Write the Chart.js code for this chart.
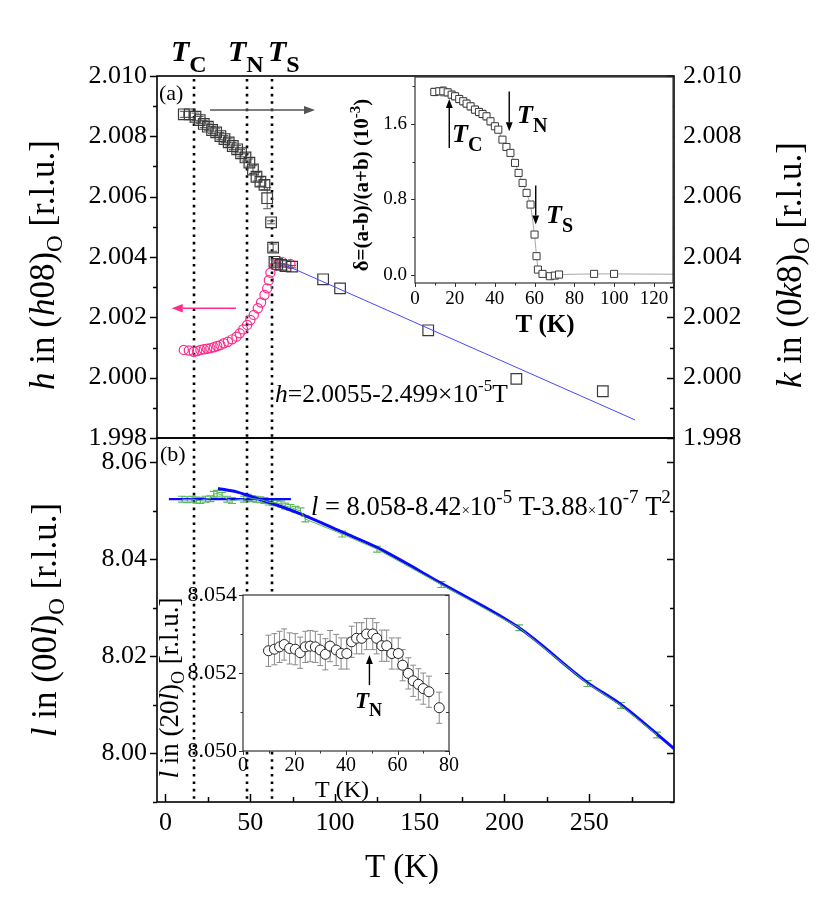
<!DOCTYPE html>
<html><head><meta charset="utf-8">
<script src="https://cdn.jsdelivr.net/npm/chart.js@4"></script>
<style>
html,body{margin:0;padding:0;background:#fff;}
#wrap{position:relative;width:830px;height:900px;overflow:hidden;background:#fff;}
canvas{position:absolute;left:0;top:0;}
</style></head><body>
<div id="wrap">
<canvas id="cBot" width="830" height="900"></canvas>
<canvas id="cTop" width="830" height="900"></canvas>
<canvas id="cIn1" width="830" height="900"></canvas>
<canvas id="cIn2" width="830" height="900"></canvas>
</div>
<script>
// ---------------- data ----------------
const xTicks = [0, 50, 100, 150, 200, 250];
const xMinor = [25, 75, 125, 175, 225, 275];
const hkTicks = [1.998, 2.000, 2.002, 2.004, 2.006, 2.008, 2.010];
const hkMinor = [1.999, 2.001, 2.003, 2.005, 2.007, 2.009];
const lTicks = [8.00, 8.02, 8.04, 8.06];
const lMinor = [7.99, 8.01, 8.03, 8.05];
const transT = [17, 48, 63];

// k in (0k8) (squares, right axis)
const kT   = [10.8,14.3,17.7,20.2,22.6,25.0,27.5,29.9,32.4,34.8,37.3,39.7,42.3,44.6,47.2,49.5,51.6,53.7,56.0,58.4,60.0,62.3,63.5,64.3,65.9,68.2,70.8,74.7,93,103,155,207,258];
const kVal = [2.00873,2.00873,2.00865,2.00854,2.00841,2.00832,2.00821,2.00813,2.00801,2.00791,2.00780,2.00768,2.00757,2.00744,2.00730,2.00713,2.00690,2.00666,2.00650,2.00639,2.00595,2.00515,2.00431,2.00384,2.00377,2.00374,2.00370,2.00368,2.00326,2.00296,2.00157,1.99996,1.99955];
const kErr = [0.00010,0.00010,0.00012,0.00012,0.00012,0.00012,0.00012,0.00012,0.00012,0.00012,0.00012,0.00012,0.00012,0.00012,0.00012,0.00012,0.00013,0.00014,0.00015,0.00016,0.00035,0.00005,0.00012,0.00006,0.00004,0.00004,0.00004,0.00004,0,0,0,0,0];

// h in (h08) (circles, left axis)
const hT   = [10.8,13.8,16.7,18.7,20.6,22.6,24.6,26.5,28.5,30.5,32.4,34.4,36.8,39.3,41.9,43.8,45.8,48.2,50.1,52.1,54.5,56.4,58.4,60.0,61.0,61.9,64.9,68.8,73.7];
const hVal = [2.00092,2.00090,2.00086,2.00088,2.00092,2.00094,2.00096,2.00098,2.00101,2.00105,2.00108,2.00114,2.00119,2.00127,2.00136,2.00147,2.00160,2.00175,2.00191,2.00208,2.00230,2.00249,2.00274,2.00296,2.00323,2.00348,2.00373,2.00384,2.00377];
const hFitT   = [68, 277];
const hFitVal = [2.0038, 1.9986];

// inset (a): orthorhombicity delta
const dT   = [9.7,12.2,14.2,16.4,18.4,20.1,22.2,24.2,25.9,27.9,30.1,32.1,33.9,35.9,37.9,40.1,41.8,43.9,45.9,47.9,50.2,52.0,54.0,56.0,58.0,60.0,61.0,61.7,64.0,67.7,70.2,72.3,89.9,99.9,155];
const dVal = [1.941,1.948,1.948,1.937,1.912,1.895,1.866,1.842,1.817,1.788,1.753,1.728,1.707,1.682,1.629,1.576,1.540,1.434,1.356,1.293,1.187,1.080,0.974,0.868,0.744,0.425,0.195,0.053,0.007,-0.018,-0.011,0.0,0.007,0.007,0.0];
const dErr = [0.04,0.04,0.05,0.04,0.04,0.04,0.04,0.04,0.04,0.04,0.04,0.04,0.04,0.04,0.04,0.03,0.03,0.03,0.03,0.03,0.03,0.03,0.03,0.03,0.03,0.02,0.03,0.03,0,0,0,0,0,0,0];
const dTicksX = [0, 20, 40, 60, 80, 100, 120];
const dMinorX = [10, 30, 50, 70, 90, 110];
const dTicksY = [0.0, 0.8, 1.6];
const dMinorY = [0.4, 1.2, 2.0];

// panel (b): l in (00l)
const lT   = [9.8,12.8,15.7,18.3,20.6,23.6,26.5,28.5,30.5,33.4,36.4,39.3,46.2,48.5,51.1,53.6,56.0,58.4,60.9,63.5,65.8,68.2,70.7,73.7,76.7,79.6,82.5,104.2,124.8,162.7,208.7,249,268.7,290];
const lVal = [8.0524,8.0523,8.0524,8.0522,8.0521,8.0524,8.0525,8.0534,8.0536,8.0532,8.0524,8.0521,8.0524,8.0528,8.0525,8.0524,8.0523,8.0521,8.0518,8.0517,8.0516,8.0514,8.0510,8.0507,8.0503,8.0500,8.0483,8.0452,8.0421,8.0348,8.0259,8.0144,8.0099,8.0038];
const lErr = lT.map(() => 0.0006);
const lFitT   = [31, 42, 50, 64, 80, 105, 125, 163, 209, 249, 269, 300];
const lFitVal = [8.0546, 8.0539, 8.0530, 8.0514, 8.0493, 8.0455, 8.0424, 8.0350, 8.0258, 8.0146, 8.0100, 8.0010];
const lFlatT   = [2, 74];
const lFlatVal = [8.0524, 8.0524];

// inset (b): l in (20l)
const iT   = [9.9,12.2,14.2,16.0,18.1,20.3,22.2,24.2,26.1,28.1,30.0,32.0,33.8,36.2,38.1,40.3,42.2,44.1,46.1,48.0,50.4,51.9,53.9,55.8,57.8,60.3,62.0,64.2,66.1,68.1,70.0,72.2,76.2];
const iVal = [8.05257,8.05261,8.05267,8.05273,8.05263,8.05261,8.05252,8.05267,8.05269,8.05267,8.05259,8.05248,8.05269,8.05259,8.05250,8.05250,8.05280,8.05289,8.05289,8.05300,8.05300,8.05289,8.05270,8.05270,8.05250,8.05250,8.05220,8.05199,8.05180,8.05171,8.05160,8.05152,8.05111];
const iErr = iT.map(() => 0.0004);
const iTicksX = [0, 20, 40, 60, 80];
const iMinorX = [10, 30, 50, 70];
const iTicksY = [8.050, 8.052, 8.054];
const iMinorY = [8.051, 8.053];

// ---------------- helpers ----------------
const SERIF = "'Liberation Serif', 'Times New Roman', serif";
Chart.defaults.font.family = SERIF;
Chart.defaults.color = '#000';
const pts = (xs, ys) => xs.map((x, i) => ({x, y: ys[i]}));
const P = Math.PI;

function fontStr(r, item) {
  return `${r.style || item.style || 'normal'} ${r.weight || item.weight || 'normal'} ${r.size || item.size}px ${SERIF}`;
}
function drawRuns(ctx, item) {
  ctx.save();
  ctx.translate(item.x, item.y);
  if (item.rot) ctx.rotate(item.rot);
  ctx.textBaseline = 'alphabetic';
  ctx.textAlign = 'left';
  ctx.fillStyle = item.color || '#000';
  let total = 0;
  const ws = item.runs.map(r => { ctx.font = fontStr(r, item); const w = ctx.measureText(r.t).width; total += w; return w; });
  let x = item.align === 'center' ? -total / 2 : (item.align === 'right' ? -total : 0);
  item.runs.forEach((r, i) => { ctx.font = fontStr(r, item); ctx.fillText(r.t, x, r.dy || 0); x += ws[i]; });
  ctx.restore();
}
function drawArrow(ctx, x1, y1, x2, y2, color, w, head) {
  ctx.save();
  ctx.strokeStyle = color; ctx.fillStyle = color; ctx.lineWidth = w;
  const ang = Math.atan2(y2 - y1, x2 - x1);
  const bx = x2 - Math.cos(ang) * head, by = y2 - Math.sin(ang) * head;
  ctx.beginPath(); ctx.moveTo(x1, y1); ctx.lineTo(bx, by); ctx.stroke();
  const hw = head * 0.38;
  ctx.beginPath();
  ctx.moveTo(x2, y2);
  ctx.lineTo(bx + Math.sin(ang) * hw, by - Math.cos(ang) * hw);
  ctx.lineTo(bx - Math.sin(ang) * hw, by + Math.cos(ang) * hw);
  ctx.closePath(); ctx.fill();
  ctx.restore();
}

const DECOR = {};
const decor = {
  id: 'decor',
  beforeDraw(chart) {
    const d = DECOR[chart.canvas.id]; if (!d) return;
    const a = chart.chartArea, ctx = chart.ctx;
    if (d.bg) { ctx.save(); ctx.fillStyle = d.bg; ctx.fillRect(a.left, a.top, a.right - a.left, a.bottom - a.top); ctx.restore(); }
  },
  beforeDatasetsDraw(chart) {
    const d = DECOR[chart.canvas.id]; if (!d) return;
    const a = chart.chartArea, ctx = chart.ctx;
    ctx.save();
    ctx.beginPath(); ctx.rect(a.left, a.top, a.right - a.left, a.bottom - a.top); ctx.clip();
    if (d.dotted) {
      ctx.save();
      ctx.strokeStyle = '#000'; ctx.lineWidth = 2.6; ctx.setLineDash([2.6, 4.8]);
      d.dotted.forEach(t => {
        const x = Math.round(chart.scales.x.getPixelForValue(t));
        ctx.beginPath(); ctx.moveTo(x, a.top + 3); ctx.lineTo(x, a.bottom); ctx.stroke();
      });
      ctx.restore();
    }
    chart.data.datasets.forEach((ds, i) => {
      if (!ds.errors) return;
      const meta = chart.getDatasetMeta(i);
      const ys = chart.scales[ds.yAxisID || 'y'];
      ctx.save();
      ctx.strokeStyle = ds.errorColor || '#888'; ctx.lineWidth = ds.errorWidth || 1;
      meta.data.forEach((el, j) => {
        const e = ds.errors[j]; if (!e) return;
        const v = ds.data[j].y;
        const y1 = ys.getPixelForValue(v + e), y2 = ys.getPixelForValue(v - e);
        const c = ds.capWidth || 3;
        ctx.beginPath();
        ctx.moveTo(el.x, y1); ctx.lineTo(el.x, y2);
        ctx.moveTo(el.x - c, y1); ctx.lineTo(el.x + c, y1);
        ctx.moveTo(el.x - c, y2); ctx.lineTo(el.x + c, y2);
        ctx.stroke();
      });
      ctx.restore();
    });
    ctx.restore();
  },
  afterDatasetsDraw(chart) {
    const d = DECOR[chart.canvas.id]; if (!d) return;
    const a = chart.chartArea, ctx = chart.ctx;
    (d.ticks || []).forEach(t => {
      const s = chart.scales[t.scale];
      ctx.save(); ctx.strokeStyle = d.frameColor || '#000'; ctx.lineWidth = t.w || 1.5;
      const draw = (vals, len) => vals.forEach(v => {
        const p = Math.round(s.getPixelForValue(v)) + 0.5;
        ctx.beginPath();
        if (t.edge === 'left') { const dir = t.dir === 'out' ? -1 : 1; ctx.moveTo(a.left, p); ctx.lineTo(a.left + dir * len, p); }
        else if (t.edge === 'right') { const dir = t.dir === 'out' ? 1 : -1; ctx.moveTo(a.right, p); ctx.lineTo(a.right + dir * len, p); }
        else if (t.edge === 'bottom') { const dir = t.dir === 'out' ? 1 : -1; ctx.moveTo(p, a.bottom); ctx.lineTo(p, a.bottom + dir * len); }
        ctx.stroke();
      });
      draw(t.major || [], t.len); draw(t.minor || [], t.mlen);
      ctx.restore();
    });
    if (d.frame) {
      ctx.save(); ctx.strokeStyle = d.frameColor || '#000'; ctx.lineWidth = d.frame;
      ctx.strokeRect(a.left, a.top, a.right - a.left, a.bottom - a.top);
      ctx.restore();
    }
    (d.arrows || []).forEach(r => {
      const xs = chart.scales.x, ys = chart.scales.y;
      drawArrow(ctx, xs.getPixelForValue(r.x1), ys.getPixelForValue(r.y1), xs.getPixelForValue(r.x2), ys.getPixelForValue(r.y2), r.color, r.w, r.head);
    });
    (d.texts || []).forEach(t => drawRuns(ctx, t));
  }
};

function yAxis(pos, min, max, ticks, width, o) {
  return {
    type: 'linear', position: pos, min, max,
    grid: {display: false, drawTicks: false}, border: {display: false},
    afterBuildTicks: s => { s.ticks = ticks.map(v => ({value: v})); },
    afterFit: s => { s.width = width; s.paddingTop = 0; s.paddingBottom = 0; s.paddingLeft = 0; s.paddingRight = 0; },
    ticks: {display: o.labels !== false, autoSkip: false, padding: o.pad || 0, color: '#000',
            font: {family: SERIF, size: o.size || 12, style: 'normal', weight: 'normal'}, callback: v => Number(v).toFixed(o.dec)}
  };
}
function xAxis(min, max, ticks, height, o) {
  return {
    type: 'linear', position: 'bottom', min, max, display: o.display !== false,
    grid: {display: false, drawTicks: false}, border: {display: false},
    afterBuildTicks: s => { s.ticks = ticks.map(v => ({value: v})); },
    afterFit: s => { s.height = height; s.paddingLeft = 0; s.paddingRight = 0; s.paddingTop = 0; s.paddingBottom = 0; },
    ticks: {autoSkip: false, maxRotation: 0, minRotation: 0, padding: o.pad || 0, color: '#000',
            font: {family: SERIF, size: o.size || 12, style: 'normal', weight: 'normal'}, callback: v => String(v)}
  };
}
function makeChart(id, datasets, scales, padding) {
  return new Chart(document.getElementById(id), {
    type: 'scatter',
    data: {datasets},
    options: {
      responsive: false, animation: false, events: [], devicePixelRatio: 1,
      layout: {padding},
      scales,
      plugins: {legend: {display: false}, tooltip: {enabled: false}}
    },
    plugins: [decor]
  });
}

// ---------------- panel (b), bottom main ----------------
DECOR.cBot = {
  frame: 1.6,
  dotted: transT,
  ticks: [
    {scale: 'y', edge: 'left', dir: 'out', major: lTicks, minor: lMinor, len: 7, mlen: 4},
    {scale: 'y2', edge: 'right', dir: 'in', major: lTicks, minor: lMinor, len: 7, mlen: 4},
    {scale: 'x', edge: 'bottom', dir: 'in', major: xTicks, minor: xMinor, len: 8, mlen: 5}
  ],
  texts: [
    {x: 160, y: 461, size: 22, runs: [{t: '(b)'}]},
    {x: 311, y: 515, size: 26.5, runs: [
      {t: 'l', style: 'italic'}, {t: ' = 8.058-8.42'}, {t: '×', size: 15}, {t: '10'}, {t: '-5', size: 19, dy: -12},
      {t: ' T-3.88'}, {t: '×', size: 15}, {t: '10'}, {t: '-7', size: 19, dy: -12}, {t: ' T'}, {t: '2', size: 19, dy: -12}]},
    {x: 56, y: 620, rot: -P / 2, align: 'center', size: 35, runs: [
      {t: 'l', style: 'italic'}, {t: ' in (00'}, {t: 'l', style: 'italic'}, {t: ')'}, {t: 'O', size: 23, dy: 8}, {t: ' [r.l.u.]'}]},
    {x: 402, y: 877, align: 'center', size: 33, runs: [{t: 'T (K)'}]}
  ]
};
makeChart('cBot', [
  {data: pts(lT, lVal), showLine: true, borderColor: '#5cb85c', borderWidth: 1, pointRadius: 0,
   errors: lErr, errorColor: '#5cb85c', errorWidth: 1.2, capWidth: 4},
  {data: pts(lFlatT, lFlatVal), showLine: true, borderColor: '#0a0aff', borderWidth: 2.2, pointRadius: 0},
  {data: pts(lFitT, lFitVal), showLine: true, borderColor: '#0a0aff', borderWidth: 3, pointRadius: 0, cubicInterpolationMode: 'monotone'}
], {
  x: xAxis(-5, 300, xTicks, 98, {size: 26, pad: 6}),
  y: yAxis('left', 7.99, 8.065, lTicks, 157, {size: 26, pad: 10, dec: 2}),
  y2: yAxis('right', 7.99, 8.065, lTicks, 156, {labels: false, dec: 2})
}, {left: 0, right: 0, top: 438, bottom: 0});

// ---------------- panel (a), top main ----------------
DECOR.cTop = {
  frame: 1.6,
  dotted: transT,
  ticks: [
    {scale: 'y', edge: 'left', dir: 'out', major: hkTicks, minor: hkMinor, len: 7, mlen: 4},
    {scale: 'y2', edge: 'right', dir: 'in', major: hkTicks, minor: hkMinor, len: 7, mlen: 4}
  ],
  arrows: [
    {x1: 26.3, y1: 2.00887, x2: 88.2, y2: 2.00887, color: '#555', w: 1.5, head: 11},
    {x1: 41.6, y1: 2.00230, x2: 3.7, y2: 2.00230, color: '#ff2a8a', w: 1.5, head: 11}
  ],
  texts: [
    {x: 171, y: 61, runs: [{t: 'T', style: 'italic', weight: 'bold', size: 30}, {t: 'C', weight: 'bold', size: 24, dy: 11}]},
    {x: 228, y: 61, runs: [{t: 'T', style: 'italic', weight: 'bold', size: 30}, {t: 'N', weight: 'bold', size: 24, dy: 11}]},
    {x: 268, y: 61, runs: [{t: 'T', style: 'italic', weight: 'bold', size: 30}, {t: 'S', weight: 'bold', size: 24, dy: 11}]},
    {x: 159, y: 100, size: 22, runs: [{t: '(a)'}]},
    {x: 275, y: 402, size: 25.5, runs: [{t: 'h', style: 'italic'}, {t: '=2.0055-2.499×10'}, {t: '-5', size: 17, dy: -11}, {t: 'T'}]},
    {x: 54, y: 265, rot: -P / 2, align: 'center', size: 35, runs: [
      {t: 'h', style: 'italic'}, {t: ' in ('}, {t: 'h', style: 'italic'}, {t: '08)'}, {t: 'O', size: 23, dy: 8}, {t: ' [r.l.u.]'}]},
    {x: 801, y: 265, rot: -P / 2, align: 'center', size: 35, runs: [
      {t: 'k', style: 'italic'}, {t: ' in (0'}, {t: 'k', style: 'italic'}, {t: '8)'}, {t: 'O', size: 23, dy: 8}, {t: ' [r.l.u.]'}]}
  ]
};
makeChart('cTop', [
  {data: pts(hFitT, hFitVal), showLine: true, borderColor: '#4646ff', borderWidth: 1, pointRadius: 0},
  {data: pts(kT, kVal), yAxisID: 'y2', pointStyle: 'rect', pointRadius: 7.5, pointBorderWidth: 1.2,
   pointBorderColor: '#3a3a3a', pointBackgroundColor: 'rgba(0,0,0,0)',
   errors: kErr, errorColor: '#555', errorWidth: 1, capWidth: 4},
  {data: pts(hT, hVal), pointStyle: 'circle', pointRadius: 4.6, pointBorderWidth: 1.2,
   pointBorderColor: '#ff2a8a', pointBackgroundColor: 'rgba(0,0,0,0)'}
], {
  x: xAxis(-5, 300, xTicks, 0, {display: false}),
  y: yAxis('left', 1.998, 2.010, hkTicks, 157, {size: 26, pad: 10, dec: 3}),
  y2: yAxis('right', 1.998, 2.010, hkTicks, 156, {size: 26, pad: 9, dec: 3})
}, {left: 0, right: 0, top: 76, bottom: 462});

// ---------------- inset (a) ----------------
DECOR.cIn1 = {
  bg: '#fff', frame: 1.2, frameColor: '#333',
  ticks: [
    {scale: 'y', edge: 'left', dir: 'out', major: dTicksY, minor: dMinorY, len: 4, mlen: 2.5, w: 1},
    {scale: 'x', edge: 'bottom', dir: 'out', major: dTicksX, minor: dMinorX, len: 4, mlen: 2.5, w: 1}
  ],
  arrows: [
    {x1: 17.2, y1: 1.346, x2: 17.2, y2: 1.867, color: '#000', w: 1.4, head: 9},
    {x1: 47.3, y1: 1.947, x2: 47.3, y2: 1.522, color: '#000', w: 1.4, head: 9},
    {x1: 60.6, y1: 0.946, x2: 60.6, y2: 0.531, color: '#000', w: 1.4, head: 9}
  ],
  texts: [
    {x: 452, y: 142, runs: [{t: 'T', style: 'italic', weight: 'bold', size: 26}, {t: 'C', weight: 'bold', size: 20, dy: 9}]},
    {x: 517, y: 123, runs: [{t: 'T', style: 'italic', weight: 'bold', size: 26}, {t: 'N', weight: 'bold', size: 20, dy: 9}]},
    {x: 546, y: 223, runs: [{t: 'T', style: 'italic', weight: 'bold', size: 26}, {t: 'S', weight: 'bold', size: 20, dy: 9}]},
    {x: 545, y: 332, align: 'center', size: 25, weight: 'bold', runs: [{t: 'T (K)'}]},
    {x: 368, y: 185, rot: -P / 2, align: 'center', size: 21, weight: 'bold', runs: [
      {t: 'δ=(a-b)/(a+b) (10'}, {t: '-3', size: 15, dy: -8}, {t: ')'}]}
  ]
};
makeChart('cIn1', [
  {data: pts(dT, dVal), showLine: true, borderColor: '#a8a8a8', borderWidth: 1,
   pointStyle: 'rect', pointRadius: 5, pointBorderWidth: 1, pointBorderColor: '#3a3a3a', pointBackgroundColor: '#fff',
   errors: dErr, errorColor: '#999', errorWidth: 1, capWidth: 3}
], {
  x: xAxis(0, 129.5, dTicksX, 30, {size: 19, pad: 5}),
  y: yAxis('left', -0.09, 2.10, dTicksY, 60, {size: 19, pad: 8, dec: 1})
}, {left: 355, right: 157, top: 77, bottom: 587});

// ---------------- inset (b) ----------------
DECOR.cIn2 = {
  bg: '#fff', frame: 1.2, frameColor: '#333',
  ticks: [
    {scale: 'y', edge: 'left', dir: 'out', major: iTicksY, minor: iMinorY, len: 4, mlen: 2.5, w: 1},
    {scale: 'y', edge: 'right', dir: 'in', major: iTicksY, minor: iMinorY, len: 4, mlen: 3, w: 1},
    {scale: 'x', edge: 'bottom', dir: 'out', major: iTicksX, minor: iMinorX, len: 4, mlen: 2.5, w: 1}
  ],
  arrows: [
    {x1: 49.1, y1: 8.05169, x2: 49.1, y2: 8.05246, color: '#000', w: 1.4, head: 9}
  ],
  texts: [
    {x: 355, y: 708, runs: [{t: 'T', style: 'italic', weight: 'bold', size: 23}, {t: 'N', weight: 'bold', size: 18, dy: 8}]},
    {x: 342, y: 797, align: 'center', size: 24, runs: [{t: 'T (K)'}]},
    {x: 178, y: 688, rot: -P / 2, align: 'center', size: 27, runs: [
      {t: 'l', style: 'italic'}, {t: ' in (20'}, {t: 'l', style: 'italic'}, {t: ')'}, {t: 'O', size: 18, dy: 6}, {t: ' [r.l.u.]'}]}
  ]
};
makeChart('cIn2', [
  {data: pts(iT, iVal), pointStyle: 'circle', pointRadius: 5, pointBorderWidth: 1,
   pointBorderColor: '#222', pointBackgroundColor: '#fff',
   errors: iErr, errorColor: '#8a8a8a', errorWidth: 1, capWidth: 3}
], {
  x: xAxis(0, 80, iTicksX, 30, {size: 20, pad: 3}),
  y: yAxis('left', 8.050, 8.054, iTicksY, 60, {size: 22, pad: 6, dec: 3})
}, {left: 183, right: 381, top: 595, bottom: 119});
</script></body></html>
